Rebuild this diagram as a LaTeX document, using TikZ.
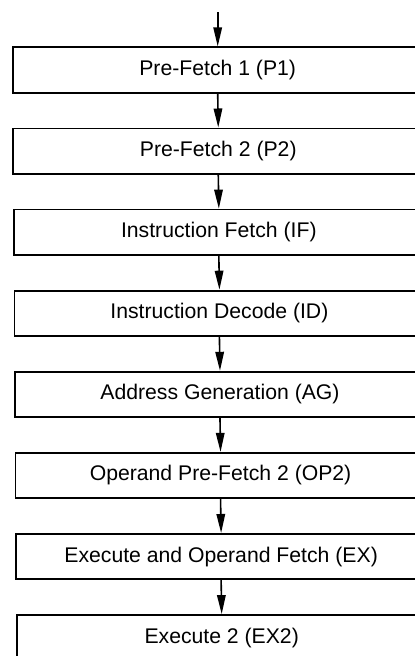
\documentclass[tikz,border=0pt]{standalone}
\usepackage{fontspec}
\setmainfont{Liberation Sans}
\usetikzlibrary{arrows.meta}
\begin{document}
\begin{tikzpicture}[x=1pt,y=-1pt,
  stage/.style={draw, line width=1.8pt, minimum width=410pt, minimum height=45.4pt,
    inner sep=0pt, font=\fontsize{21.2pt}{24pt}\selectfont},
  flow/.style={line width=1.6pt, -{Triangle[length=19pt,width=8.5pt]}}]
\clip (0,0) rectangle (415,656);
\coordinate (in) at (217.7,12);
\node[stage] (p1) at (217.70,70.0) {Pre-Fetch 1 (P1)};
\node[stage] (p2) at (218.27,151.1) {Pre-Fetch 2 (P2)};
\node[stage] (if) at (218.84,232.2) {Instruction Fetch (IF)};
\node[stage] (id) at (219.41,313.3) {Instruction Decode (ID)};
\node[stage] (ag) at (219.98,394.4) {Address Generation (AG)};
\node[stage] (op) at (220.55,475.5) {Operand Pre-Fetch 2 (OP2)};
\node[stage] (ex) at (221.12,556.6) {Execute and Operand Fetch (EX)};
\node[stage] (ex2) at (221.69,637.7) {Execute 2 (EX2)};
\draw[flow] (in) -- (p1.north);
\draw[flow] (p1.south) -- (p2.north);
\draw[flow] (p2.south) -- (if.north);
\draw[flow] (if.south) -- (id.north);
\draw[flow] (id.south) -- (ag.north);
\draw[flow] (ag.south) -- (op.north);
\draw[flow] (op.south) -- (ex.north);
\draw[flow] (ex.south) -- (ex2.north);
\end{tikzpicture}
\end{document}
